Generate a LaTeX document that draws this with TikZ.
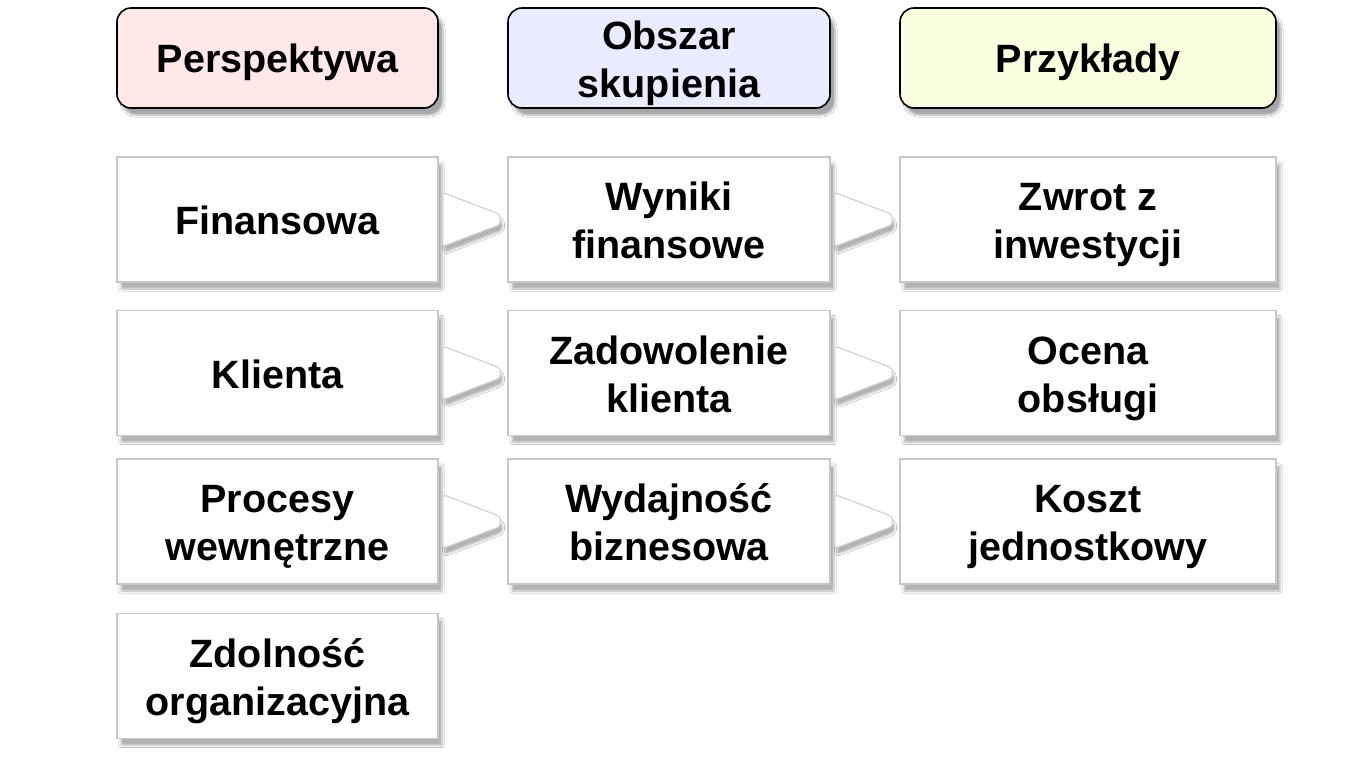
\documentclass[tikz,border=0pt]{standalone}
\usepackage{fontspec}
\setmainfont{Liberation Sans}
\usetikzlibrary{calc,shadows.blur}
\newcommand{\twoln}[2]{\rule{0pt}{40pt}#1\\#2}

\begin{document}
\begin{tikzpicture}[x=1pt, y=-1pt,
  txt/.style={align=center, font=\fontsize{39.5}{48}\selectfont\bfseries,
    execute at begin node={\rule{0pt}{40pt}}, execute at end node={\rule[-10pt]{0pt}{10pt}}},
  head/.style={txt, draw=black, line width=1.6pt, rounded corners=14pt, minimum height=100pt,
    inner ysep=0pt, blur shadow={shadow xshift=5pt, shadow yshift=-7pt, shadow opacity=35}},
  cell/.style={txt, draw=black!22, line width=1.4pt, fill=white, minimum height=125pt,
    blur shadow={shadow xshift=4pt, shadow yshift=-7pt, shadow opacity=30}},
  wedge/.style={draw=black!18, line width=1.2pt, fill=white, rounded corners=3pt,
    blur shadow={shadow xshift=2pt, shadow yshift=-6pt, shadow opacity=30}}]
\useasboundingbox (0,0) rectangle (1370,768);
\fill[white] (0,0) rectangle (1370,768);

\node[head, fill=red!9, minimum width=321pt] (hpersp) at (277.5,58) {Perspektywa};
\node[head, fill=blue!8, minimum width=322pt] (hobszar) at (669,58) {\twoln{Obszar}{skupienia}};
\node[head, fill=lime!13, minimum width=376pt] (hprzyk) at (1088,58) {Przykłady};

\node[cell, minimum width=321pt] (finans) at (277.5,219.5) {Finansowa};
\node[cell, minimum width=321pt] (klient) at (277.5,373) {Klienta};
\node[cell, minimum width=321pt] (proces) at (277.5,521.5) {\twoln{Procesy}{wewnętrzne}};
\node[cell, minimum width=321pt] (zdoln) at (277.5,676) {\twoln{Zdolność}{organizacyjna}};

\node[cell, minimum width=322pt] (wyniki) at (669,219.5) {\twoln{Wyniki}{finansowe}};
\node[cell, minimum width=322pt] (zadow) at (669,373) {\twoln{Zadowolenie}{klienta}};
\node[cell, minimum width=322pt] (wydaj) at (669,521.5) {\twoln{Wydajność}{biznesowa}};

\node[cell, minimum width=376pt] (zwrot) at (1088,219.5) {\twoln{Zwrot z}{inwestycji}};
\node[cell, minimum width=376pt] (ocena) at (1088,373) {\twoln{Ocena}{obsługi}};
\node[cell, minimum width=376pt] (koszt) at (1088,521.5) {\twoln{Koszt}{jednostkowy}};

\foreach \a/\b in {finans/wyniki, klient/zadow, proces/wydaj, wyniki/zwrot, zadow/ocena, wydaj/koszt}
  \draw[wedge] ($(\a.east)+(4,-27)$) -- ($(\b.west)+(-7,-5)$) -- ($(\b.west)+(-7,5)$)
    -- ($(\a.east)+(4,27)$) -- cycle;
\end{tikzpicture}
\end{document}
